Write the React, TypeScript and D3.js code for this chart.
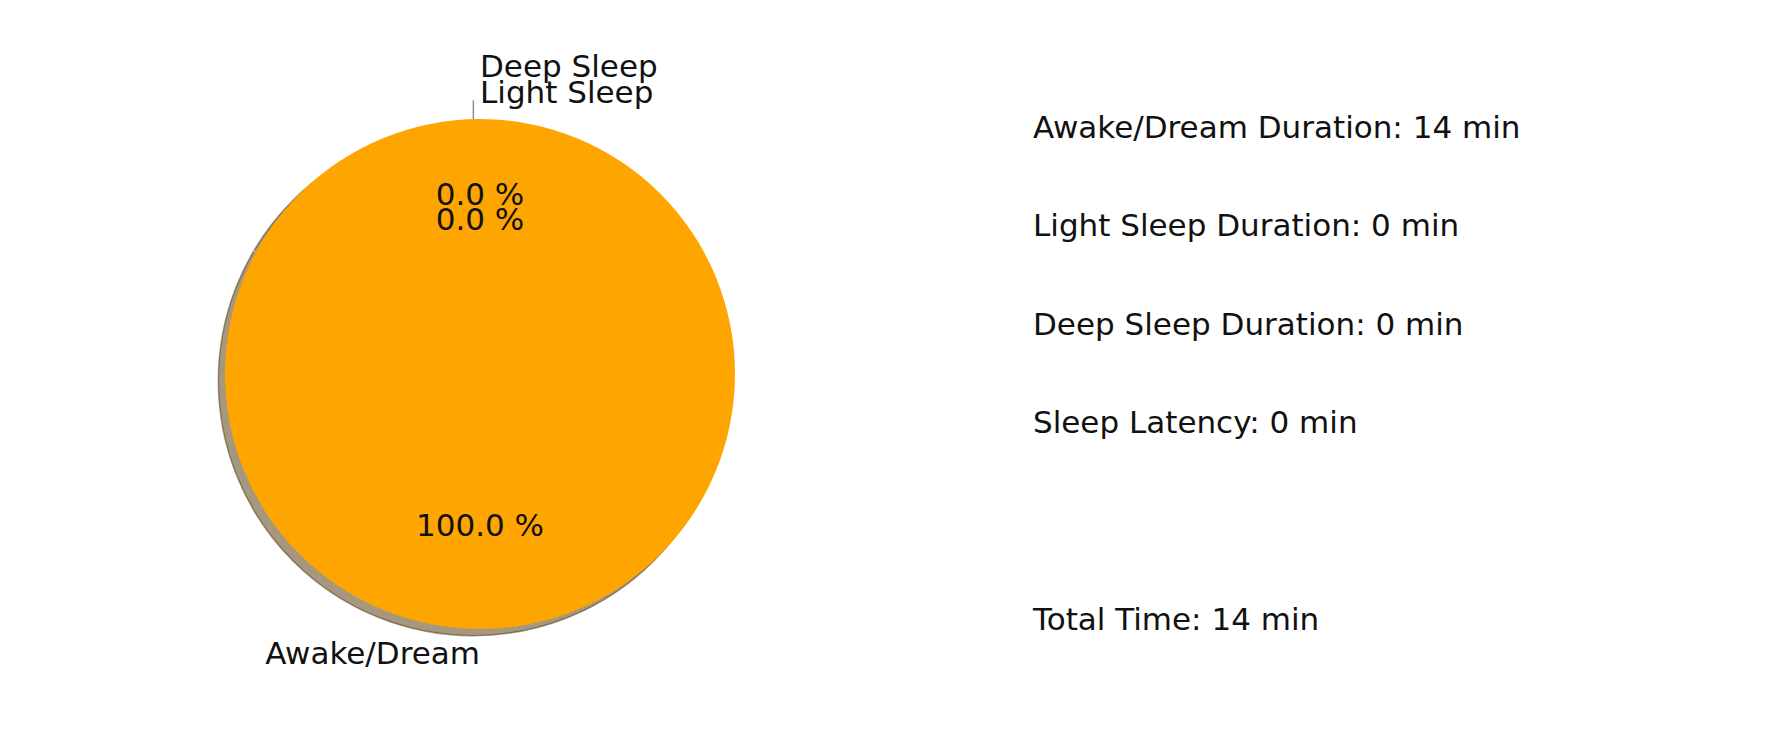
import { useEffect, useRef } from "react";
import * as d3 from "d3";

// sleep stage breakdown (minutes)
const stages = ["Awake/Dream", "Light Sleep", "Deep Sleep"];
const minutes = [14, 0, 0];
const explode = [0, 0, 0.1];
const colors = ["#ffa500", "#87cefa", "#1f77b4"];

// summary text on the right
const statLabels = ["Awake/Dream Duration", "Light Sleep Duration", "Deep Sleep Duration", "Sleep Latency"];
const statValues = [14, 0, 0, 0];
const totalLabel = "Total Time";
const totalValue = 14;

const WIDTH = 1766;
const HEIGHT = 744;
const FONT = "'DejaVu Sans', sans-serif";

export default function App() {
  const svgRef = useRef<SVGSVGElement>(null);

  useEffect(() => {
    if (!svgRef.current) return;
    const svg = d3.select(svgRef.current);
    svg.selectAll("*").remove();
    svg.attr("viewBox", `0 0 ${WIDTH} ${HEIGHT}`);

    const cx = 480;
    const cy = 374;
    const r = 255;
    const labelDistance = 1.1;
    const pctDistance = 0.6;
    const shadowOff = 0.026 * r;
    const total = d3.sum(minutes);

    // matplotlib style: start at 90deg, counter-clockwise
    const pie = d3.pie<number>()
      .sort(null)
      .startAngle(0)
      .endAngle(-2 * Math.PI);
    const arcs = pie(minutes);
    const arc = d3.arc<d3.PieArcDatum<number>>().innerRadius(0).outerRadius(r);

    const midAngle = (d: d3.PieArcDatum<number>) => (d.startAngle + d.endAngle) / 2;
    // d3 angle (0 = up, clockwise) -> dx, dy
    const dir = (a: number) => [Math.sin(a), -Math.cos(a)];
    const shade = (c: string) => {
      const k = d3.rgb(c);
      return d3.rgb(k.r * 0.3, k.g * 0.3, k.b * 0.3).toString();
    };

    const g = svg.append("g").attr("transform", `translate(${cx},${cy})`);

    // shadows first
    g.append("g")
      .selectAll("path")
      .data(arcs)
      .join("path")
      .attr("d", d => arc(d))
      .attr("transform", (d, i) => {
        const [dx, dy] = dir(midAngle(d));
        return `translate(${dx * explode[i] * r - shadowOff},${dy * explode[i] * r + shadowOff})`;
      })
      .attr("fill", (d, i) => shade(colors[i]))
      .attr("fill-opacity", 0.5)
      .attr("stroke", (d, i) => shade(colors[i]))
      .attr("stroke-opacity", 0.5)
      .attr("stroke-width", 1.5);

    // wedges
    g.append("g")
      .selectAll("path")
      .data(arcs)
      .join("path")
      .attr("d", d => arc(d))
      .attr("transform", (d, i) => {
        const [dx, dy] = dir(midAngle(d));
        return `translate(${dx * explode[i] * r},${dy * explode[i] * r})`;
      })
      .attr("fill", (d, i) => colors[i]);

    // outer labels
    g.append("g")
      .selectAll("text")
      .data(arcs)
      .join("text")
      .attr("x", (d, i) => dir(midAngle(d))[0] * (labelDistance + explode[i]) * r)
      .attr("y", (d, i) => dir(midAngle(d))[1] * (labelDistance + explode[i]) * r)
      .attr("dy", "0.3em")
      .attr("text-anchor", d => (dir(midAngle(d))[0] > 0 ? "start" : "end"))
      .attr("font-family", FONT)
      .attr("font-size", 31)
      .attr("fill", "#111")
      .text((d, i) => stages[i]);

    // percentages
    g.append("g")
      .selectAll("text")
      .data(arcs)
      .join("text")
      .attr("x", (d, i) => dir(midAngle(d))[0] * (pctDistance + explode[i]) * r)
      .attr("y", (d, i) => dir(midAngle(d))[1] * (pctDistance + explode[i]) * r)
      .attr("dy", "0.3em")
      .attr("text-anchor", "middle")
      .attr("font-family", FONT)
      .attr("font-size", 31)
      .attr("fill", "#111")
      .text(d => `${d3.format(".1f")((d.data / total) * 100)} %`);

    // summary text
    const rowY = d3.scaleLinear().domain([0, statLabels.length - 1]).range([138, 433]);
    svg.append("g")
      .selectAll("text")
      .data(statLabels)
      .join("text")
      .attr("x", 1033)
      .attr("y", (d, i) => rowY(i))
      .attr("font-family", FONT)
      .attr("font-size", 31)
      .attr("fill", "#111")
      .text((d, i) => `${d}: ${statValues[i]} min`);

    svg.append("text")
      .attr("x", 1033)
      .attr("y", 630)
      .attr("font-family", FONT)
      .attr("font-size", 31)
      .attr("fill", "#111")
      .text(`${totalLabel}: ${totalValue} min`);
  }, []);

  return (
    <div style={{ position: "fixed", left: 0, top: 0, width: WIDTH, height: HEIGHT, background: "#fff" }}>
      <svg ref={svgRef} width={WIDTH} height={HEIGHT} style={{ display: "block" }} />
    </div>
  );
}
